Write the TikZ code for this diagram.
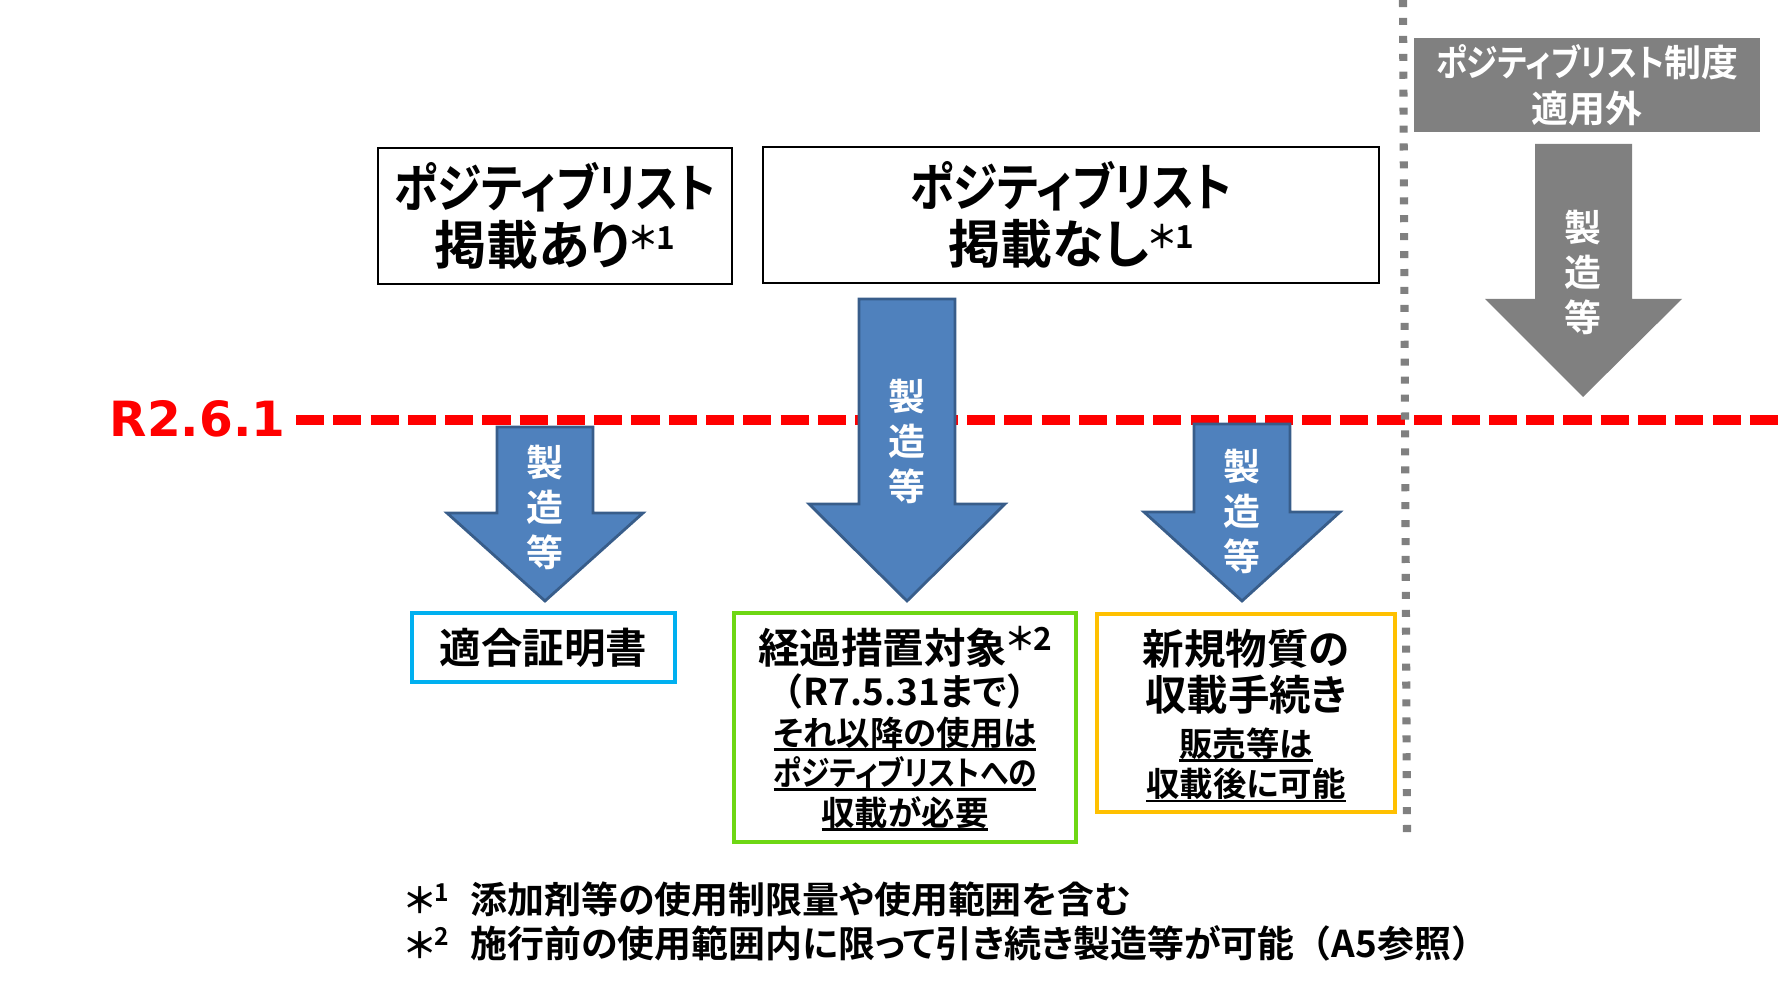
\documentclass[tikz,border=0pt]{standalone}
\usepackage{fontspec}
\setmainfont{Noto Sans CJK JP}[UprightFont=* Bold, RawFeature=+palt]
\newfontfamily\kana{Noto Sans CJK JP}[UprightFont=* Bold, RawFeature=+palt, FakeStretch=0.86]
\newfontfamily\nopalt{Noto Sans CJK JP}[UprightFont=* Bold]
\newfontfamily\datefont{DejaVu Sans}[UprightFont=* Bold]
\usetikzlibrary{positioning}

\definecolor{arrowblue}{RGB}{79,129,189}
\definecolor{arrowline}{RGB}{56,93,138}
\definecolor{listgray}{RGB}{128,128,128}
\definecolor{certcyan}{RGB}{0,176,240}
\definecolor{transgreen}{RGB}{110,215,20}
\definecolor{neworange}{RGB}{255,192,0}

\newcommand{\fsz}[2]{\fontsize{#1}{#2}\selectfont}
\newcommand{\fnm}[1]{\raisebox{.3em}{\fsz{9}{9}＊#1}}
\newsavebox{\undlbox}
\newcommand{\undl}[1]{\sbox{\undlbox}{#1}\rlap{\rule[-.15em]{\wd\undlbox}{.07em}}\usebox{\undlbox}}

\begin{document}
\begin{tikzpicture}[x=0.01cm, y=-0.01cm,
	pbox/.style={draw=black, line width=0.7pt, inner sep=0pt, align=center},
	resbox/.style={draw=#1, line width=1.3pt, fill=white, inner sep=0pt},
	txt/.style={inner sep=0pt, align=center},
	bluearrow/.style={fill=arrowblue, draw=arrowline, line width=0.8pt},
	arrowtxt/.style={text=white, inner sep=0pt, align=center, font=\fsz{10.5}{12.8}}]
	\useasboundingbox (0,0) rectangle (1784,989);
	%%%	Lines
	\coordinate (redstart) at (296,420);
	\coordinate (redend) at (1784,420);
	\coordinate (graytop) at (1403,0);
	\coordinate (graybottom) at (1407,835);
	\draw[red, line width=2.6pt, dash pattern=on 8pt off 2.6pt] (redstart) -- (redend);
	\draw[listgray, line width=2.3pt, dash pattern=on 2pt off 3.1pt] (graytop) -- (graybottom);
	\node[txt, anchor=east, text=red, font=\datefont\fsz{13.8}{14}] (date) at (286,419) {R2.6.1};
	%%%	Boxes on top
	\node[pbox, minimum width=3.54cm, minimum height=1.36cm, font=\fsz{14.8}{16.2}] (ari) at (555,216) {{\kana ポジティブリスト}\\掲載あり\fnm{1}};
	\node[pbox, minimum width=6.16cm, minimum height=1.36cm, font=\fsz{14.8}{16.2}] (nashi) at (1071,215) {{\kana ポジティブリスト}\\掲載なし\fnm{1}};
	\node[fill=listgray, text=white, inner sep=0pt, align=center, minimum width=3.45cm, minimum height=0.93cm, font=\fsz{10.5}{13}] (gai) at (1587,85) {{\kana ポジティブリスト}制度\\適用外};
	%%%	Arrows
	\draw[fill=listgray, draw=none] (1535,144) -- (1632,144) -- (1632,299) -- (1682,299) -- (1583,397) -- (1485,299) -- (1535,299) -- cycle;
	\node[arrowtxt] (gaiarrow) at (1583,272) {製\\造\\等};
	\foreach \nm/\cx/\top/\head/\ty in {ariarrow/545/427/513/507, nashiarrow/907/299/504/441, newarrow/1242/424/512/511}
	{
		\draw[bluearrow] ({\cx-48},\top) -- ({\cx+48},\top) -- ({\cx+48},\head) -- ({\cx+98},\head) -- (\cx,601) -- ({\cx-98},\head) -- ({\cx-48},\head) -- cycle;
		\node[arrowtxt] (\nm) at (\cx,\ty) {製\\造\\等};
	}
	%%%	Boxes below
	\node[resbox=certcyan, minimum width=2.63cm, minimum height=0.69cm, font=\fsz{11.8}{13}] (shomei) at (543.5,647.5) {適合証明書};
	\node[resbox=transgreen, minimum width=3.42cm, minimum height=2.29cm] (keika) at (905,727.5) {};
	\node[txt, font=\fsz{11.8}{13}] (keika1) at (905,647) {経過措置対象\fnm{2}};
	\node[txt, font=\fsz{10.5}{12}] (keika2) at (905,691) {{\nopalt （}R7.5.31まで{\nopalt ）}};
	\node[txt, font=\fsz{9.5}{11.4}] (keika3) at (905,774) {\undl{それ以降の使用は}\\\undl{\kana ポジティブリストへの}\\\undl{収載が必要}};
	\node[resbox=neworange, minimum width=2.98cm, minimum height=1.98cm] (shinki) at (1246,713) {};
	\node[txt, font=\fsz{11.8}{13.1}] (shinki1) at (1246,672) {新規物質の\\収載手続き};
	\node[txt, font=\fsz{9.5}{11.4}] (shinki2) at (1246,765) {\undl{販売等は}\\\undl{収載後に可能}};
	%%%	Notes
	\node[txt, anchor=west, font=\fsz{10.5}{12}] (note1) at (470,899) {添加剤等の使用制限量や使用範囲を含む};
	\node[txt, anchor=west, font=\fsz{10.5}{12}] (note2) at (470,943) {施行前の使用範囲内に限って引き続き製造等が可能{\nopalt （}A5参照{\nopalt ）}};
	\node[txt, font=\fsz{10}{10}, left=0.2cm of note1] (mark1) {＊\raisebox{.35em}{\fsz{7}{7}1}};
	\node[txt, font=\fsz{10}{10}, left=0.2cm of note2] (mark2) {＊\raisebox{.35em}{\fsz{7}{7}2}};
\end{tikzpicture}
\end{document}
